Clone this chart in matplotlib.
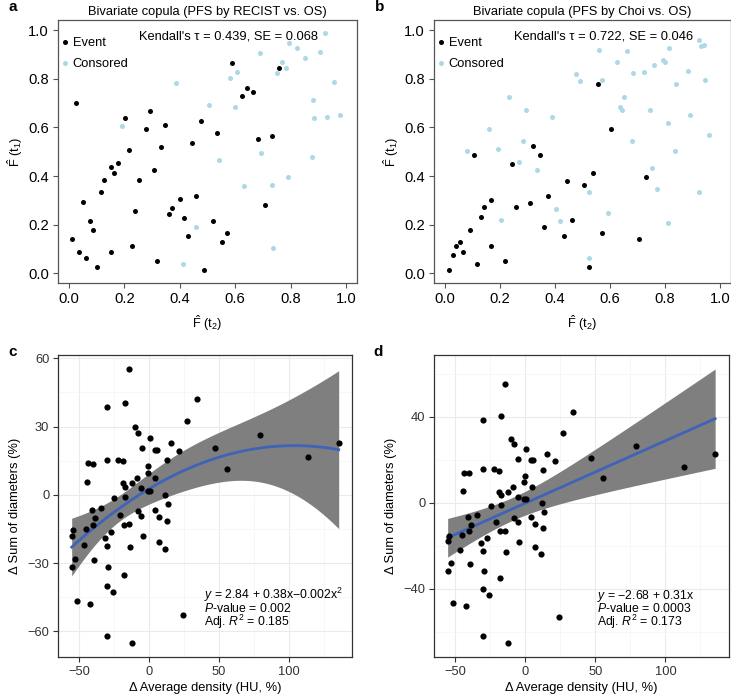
import matplotlib
matplotlib.use('Agg')
import matplotlib.pyplot as plt
import numpy as np

plt.rcParams['font.family'] = ['Liberation Sans', 'DejaVu Sans']
plt.rcParams['mathtext.fontset'] = 'custom'
plt.rcParams['mathtext.rm'] = 'Liberation Sans'
plt.rcParams['mathtext.it'] = 'Liberation Sans:italic'
plt.rcParams['mathtext.bf'] = 'Liberation Sans:bold'

# --- panel a: PFS by RECIST vs. OS ---
a_event_t2 = [0.012, 0.024, 0.037, 0.050, 0.063, 0.074, 0.088, 0.101, 0.114, 0.127,
              0.152, 0.152, 0.164, 0.176, 0.203, 0.216, 0.228, 0.240, 0.254, 0.279,
              0.292, 0.306, 0.319, 0.332, 0.345, 0.360, 0.373, 0.402, 0.415, 0.430,
              0.444, 0.460, 0.475, 0.489, 0.521, 0.536, 0.552, 0.569, 0.587, 0.623,
              0.642, 0.663, 0.681, 0.707, 0.732, 0.760]
a_event_t1 = [0.140, 0.699, 0.089, 0.293, 0.064, 0.216, 0.178, 0.027, 0.333, 0.384,
              0.438, 0.089, 0.411, 0.452, 0.638, 0.507, 0.114, 0.255, 0.384, 0.595,
              0.667, 0.425, 0.051, 0.521, 0.610, 0.242, 0.268, 0.305, 0.229, 0.153,
              0.534, 0.319, 0.625, 0.014, 0.216, 0.579, 0.127, 0.166, 0.866, 0.729,
              0.763, 0.745, 0.551, 0.281, 0.564, 0.845]
a_cens_t2 = [0.191, 0.386, 0.411, 0.459, 0.505, 0.543, 0.580, 0.605, 0.601, 0.633,
             0.691, 0.692, 0.734, 0.738, 0.752, 0.768, 0.785, 0.790, 0.796, 0.825,
             0.852, 0.876, 0.882, 0.884, 0.907, 0.925, 0.933, 0.958, 0.980]
a_cens_t1 = [0.605, 0.784, 0.038, 0.192, 0.692, 0.466, 0.804, 0.826, 0.682, 0.360,
             0.907, 0.493, 0.362, 0.103, 0.824, 0.868, 0.845, 0.397, 0.948, 0.927,
             0.886, 0.479, 0.712, 0.637, 0.909, 0.989, 0.641, 0.785, 0.652]

# --- panel b: PFS by Choi vs. OS ---
b_event_t2 = [0.016, 0.029, 0.041, 0.054, 0.067, 0.092, 0.104, 0.117, 0.130, 0.143,
              0.167, 0.167, 0.218, 0.243, 0.257, 0.308, 0.321, 0.347, 0.361, 0.375,
              0.431, 0.445, 0.461, 0.505, 0.522, 0.539, 0.555, 0.570, 0.605, 0.706,
              0.731]
b_event_t1 = [0.012, 0.076, 0.113, 0.127, 0.088, 0.177, 0.485, 0.037, 0.233, 0.274,
              0.303, 0.113, 0.051, 0.448, 0.274, 0.288, 0.524, 0.485, 0.192, 0.319,
              0.152, 0.379, 0.219, 0.364, 0.025, 0.414, 0.777, 0.166, 0.593, 0.139,
              0.397]
b_cens_t2 = [0.080, 0.160, 0.192, 0.205, 0.231, 0.269, 0.282, 0.295, 0.335, 0.388,
             0.403, 0.418, 0.475, 0.490, 0.523, 0.523, 0.560, 0.570, 0.594, 0.624,
             0.662, 0.636, 0.642, 0.650, 0.679, 0.682, 0.725, 0.747, 0.751, 0.759,
             0.770, 0.793, 0.800, 0.810, 0.812, 0.815, 0.836, 0.839, 0.883, 0.890,
             0.922, 0.932, 0.941, 0.925, 0.944, 0.960]
b_cens_t1 = [0.505, 0.593, 0.513, 0.218, 0.726, 0.457, 0.545, 0.670, 0.423, 0.644,
             0.265, 0.215, 0.821, 0.793, 0.334, 0.063, 0.919, 0.796, 0.247, 0.869,
             0.914, 0.686, 0.672, 0.727, 0.545, 0.825, 0.828, 0.670, 0.432, 0.856,
             0.348, 0.876, 0.869, 0.619, 0.206, 0.925, 0.503, 0.780, 0.834, 0.653,
             0.958, 0.936, 0.940, 0.334, 0.797, 0.567]

# --- panels c, d: change in density vs. change in sum of diameters ---
delta_densidad = [-14.3, 34.0, -30.4, -17.2, 27.2, -10.4, -8.2, 0.2, -5.1, 3.8,
                  5.7, 15.7, 21.3, 12.6, -43.9, -40.2, -30.1, -22.3, -19.1, -0.6,
                  -1.1, 4.4, -9.0, -44.9, -18.9, -17.4, -12.2, -5.6, -1.2, 0.7,
                  11.6, -24.9, -17.2, 13.1, -41.0, -34.7, -8.0, -5.6, 4.1, 7.0,
                  -20.9, -38.7, -40.6, -45.5, -18.4, -14.4, 12.9, -54.4, -55.5, -27.1,
                  -31.8, -4.4, -46.6, -30.4, -13.6, 6.9, 11.0, -53.3, -39.2, -55.5,
                  -29.2, -18.4, -30.2, -25.8, -51.7, -42.6, 24.0, -30.3, -12.4, 47.0,
                  55.5, 79.0, 113.5, 135.5]
delta_diametros = [55.3, 42.1, 38.6, 40.5, 32.5, 29.6, 27.2, 25.1, 20.5, 19.9,
                   19.8, 22.7, 19.2, 15.1, 14.0, 13.6, 15.5, 15.5, 14.7, 12.5,
                   9.5, 7.5, 7.2, 5.5, 5.0, 3.5, 5.0, 2.8, 1.5, 1.6,
                   0.0, -1.6, -0.9, -4.2, -6.6, -5.7, -7.3, -9.2, -6.7, -9.7,
                   -9.0, -10.2, -13.4, -15.2, -13.3, -13.0, -11.6, -15.4, -18.0, -16.4,
                   -19.0, -18.1, -22.1, -22.6, -22.9, -20.8, -23.9, -28.2, -28.7, -31.9,
                   -31.9, -35.2, -40.1, -42.8, -46.5, -48.2, -53.0, -62.1, -65.3, 20.7,
                   11.4, 26.5, 16.4, 22.6]

texto_c = ('$y$ = 2.84 + 0.38x\u22120.002x$^2$\n'
           '$P$-value = 0.002\n'
           'Adj. $R^2$ = 0.185')
texto_d = ('$y$ = \u22122.68 + 0.31x\n'
           '$P$-value = 0.0003\n'
           'Adj. $R^2$ = 0.173')

FS = 9.3
F_T1 = r'$\hat{\mathrm{F}}\ (\mathrm{t}_1)$'
F_T2 = r'$\hat{\mathrm{F}}\ (\mathrm{t}_2)$'


def plot_copula(ax, ev_x, ev_y, cen_x, cen_y, titulo, tau, se):
    ax.scatter(ev_x, ev_y, s=13, c='black', linewidths=0, label='Event', zorder=3)
    ax.scatter(cen_x, cen_y, s=13, c='#ADD8E6', linewidths=0, label='Consored', zorder=3)
    ax.set_xlim(-0.04, 1.04)
    ax.set_ylim(-0.04, 1.04)
    ticks = [0.0, 0.2, 0.4, 0.6, 0.8, 1.0]
    etiquetas = [f'{t:.1f}' for t in ticks]
    ax.set_xticks(ticks)
    ax.set_xticklabels(etiquetas)
    ax.set_yticks(ticks)
    ax.set_yticklabels(etiquetas)
    ax.tick_params(direction='out', length=3.5, width=0.8, color='#555555',
                   labelsize=10.6, pad=3)
    for sp in ax.spines.values():
        sp.set_color('#555555')
        sp.set_linewidth(0.9)
    ax.set_title(titulo, fontsize=FS, pad=4)
    ax.set_xlabel(F_T2, fontsize=FS)
    ax.set_ylabel(F_T1, fontsize=FS)
    ax.xaxis.label.set_va('center')
    ax.yaxis.label.set_va('center')
    ax.xaxis.set_label_coords(0.5, -0.152)
    ax.yaxis.set_label_coords(-0.144, 0.5)
    ax.text(0.575, 0.972, f"Kendall's \u03c4 = {tau}, SE = {se}", ha='center',
            va='center', fontsize=FS, zorder=4)
    ax.legend(loc='upper left', bbox_to_anchor=(0.0, 0.95), frameon=False,
              fontsize=FS, handletextpad=0.29, labelspacing=0.7,
              borderaxespad=0.1, borderpad=0.14, handlelength=0.6)


def plot_densidad(ax, x, y, grado, texto, yticks, ygrid, coord_texto):
    x = np.asarray(x)
    y = np.asarray(y)
    X = np.vander(x, grado + 1)
    beta = np.linalg.lstsq(X, y, rcond=None)[0]
    resid = y - X @ beta
    n, p = X.shape
    s2 = resid @ resid / (n - p)
    cov = s2 * np.linalg.inv(X.T @ X)
    xs = np.linspace(x.min(), x.max(), 80)
    Xs = np.vander(xs, grado + 1)
    ajuste = Xs @ beta
    err = np.sqrt(np.einsum('ij,jk,ik->i', Xs, cov, Xs))
    t = 1.994
    bajo = ajuste - t * err
    alto = ajuste + t * err

    ax.fill_between(xs, bajo, alto, color='#7F7F7F', linewidth=0, zorder=2)
    ax.plot(xs, ajuste, color='#3F63B8', lw=2, zorder=3)
    ax.scatter(x, y, s=20, c='black', linewidths=0, zorder=4)

    x0, x1 = x.min(), x.max()
    dx = (x1 - x0) * 0.05
    y0, y1 = min(y.min(), bajo.min()), max(y.max(), alto.max())
    dy = (y1 - y0) * 0.05
    ax.set_xlim(x0 - dx, x1 + dx)
    ax.set_ylim(y0 - dy, y1 + dy)

    ax.set_xticks([-50, 0, 50, 100])
    ax.set_xticks([-25, 25, 75, 125], minor=True)
    ax.set_yticks(yticks)
    ax.set_yticks(ygrid, minor=True)
    ax.grid(which='major', color='#EBEBEB', lw=0.8, zorder=0)
    ax.grid(which='minor', color='#F4F4F4', lw=0.5, zorder=0)
    ax.set_axisbelow(True)
    ax.tick_params(which='major', direction='out', length=3.5, width=0.8,
                   color='#333333', labelcolor='#333333', labelsize=FS, pad=3)
    ax.tick_params(which='minor', length=0)
    for sp in ax.spines.values():
        sp.set_color('#333333')
        sp.set_linewidth(0.9)
    ax.set_xlabel('\u0394 Average density (HU, %)', fontsize=FS)
    ax.set_ylabel('\u0394 Sum of diameters (%)', fontsize=FS)
    ax.xaxis.label.set_va('center')
    ax.yaxis.label.set_va('center')
    ax.xaxis.set_label_coords(0.5, -0.103)
    ax.yaxis.set_label_coords(-0.148, 0.5)
    tx, ty = coord_texto
    ax.text(tx, ty, texto, transform=ax.transAxes, ha='left', va='top',
            fontsize=8.8, linespacing=0.8, zorder=5)


fig = plt.figure(figsize=(7.31, 6.96), dpi=100)
ax_a = fig.add_axes([0.0793, 0.5934, 0.4090, 0.3772])
ax_b = fig.add_axes([0.5937, 0.5934, 0.4063, 0.3772])
ax_c = fig.add_axes([0.0798, 0.0560, 0.4018, 0.4335])
ax_d = fig.add_axes([0.5941, 0.0565, 0.4025, 0.4330])

plot_copula(ax_a, a_event_t2, a_event_t1, a_cens_t2, a_cens_t1,
            'Bivariate copula (PFS by RECIST vs. OS)', '0.439', '0.068')
plot_copula(ax_b, b_event_t2, b_event_t1, b_cens_t2, b_cens_t1,
            'Bivariate copula (PFS by Choi vs. OS)', '0.722', '0.046')

plot_densidad(ax_c, delta_densidad, delta_diametros, 2, texto_c,
              [-60, -30, 0, 30, 60], [-45, -15, 15, 45], (0.496, 0.236))
plot_densidad(ax_d, delta_densidad, delta_diametros, 1, texto_d,
              [-40, 0, 40], [-60, -20, 20, 60], (0.554, 0.228))

for letra, (px, py) in zip('abcd', [(13, 7), (380, 7), (13, 352), (378, 352)]):
    fig.text(px / 731, 1 - py / 696, letra, fontsize=11, fontweight='bold',
             ha='center', va='center')

plt.savefig('out.png', dpi=100)
plt.close()
